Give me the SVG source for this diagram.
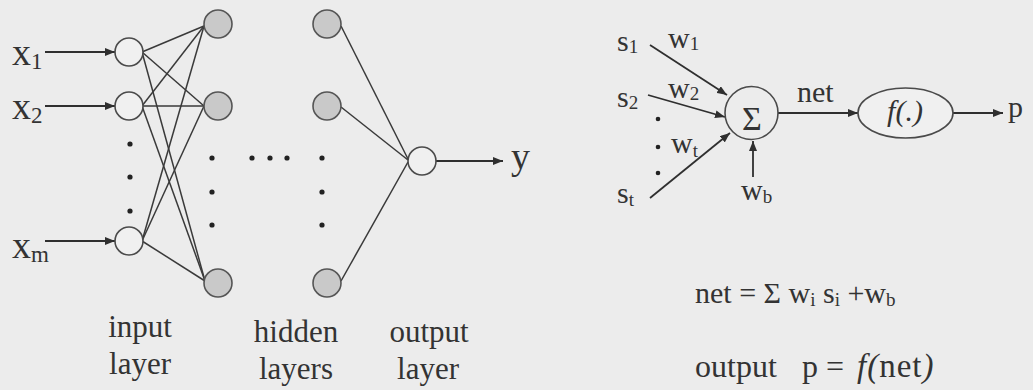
<svg xmlns="http://www.w3.org/2000/svg" width="1033" height="390" viewBox="0 0 1033 390">
<style>
  text { font-family: "Liberation Serif", "Times New Roman", serif; fill: #333; }
  .lbl { font-size: 31px; text-anchor: middle; }
  .var { font-size: 38px; }
  .sub { font-size: 23px; }
  .rv { font-size: 30px; }
  .rsub { font-size: 19px; }
  .open { fill: #f0f0f0; stroke: #4a4a4a; stroke-width: 1.6; }
  .sum { fill: #ececec; stroke: #4a4a4a; stroke-width: 1.6; }
  .hid { fill: #c9c9c9; stroke: #555; stroke-width: 1.6; }
  .ln { stroke: #3a3a3a; stroke-width: 1.5; fill: none; }
  .ar { stroke: #2f2f2f; stroke-width: 1.8; fill: none; marker-end: url(#ah); }
  .dot { fill: #222; }
</style>
<defs>
  <marker id="ah" viewBox="0 0 10 8" refX="10" refY="4" markerWidth="10" markerHeight="8" markerUnits="userSpaceOnUse" orient="auto">
    <path d="M0,0 L10,4 L0,8 z" fill="#2f2f2f"/>
  </marker>
</defs>
<rect x="0" y="0" width="1033" height="390" fill="#ececec"/>

<g id="connectors">
  <line class="ar" x1="45" y1="52" x2="115" y2="52"/>
  <line class="ar" x1="45" y1="106" x2="115" y2="106"/>
  <line class="ar" x1="45" y1="241" x2="115" y2="241"/>
  <line class="ln" x1="142" y1="52" x2="204" y2="26"/>
  <line class="ln" x1="142" y1="52" x2="204" y2="106"/>
  <line class="ln" x1="142" y1="52" x2="205" y2="281"/>
  <line class="ln" x1="142" y1="106" x2="204" y2="26"/>
  <line class="ln" x1="142" y1="106" x2="204" y2="106"/>
  <line class="ln" x1="142" y1="106" x2="205" y2="281"/>
  <line class="ln" x1="142" y1="241" x2="204" y2="26"/>
  <line class="ln" x1="142" y1="241" x2="204" y2="106"/>
  <line class="ln" x1="142" y1="241" x2="205" y2="281"/>
  <line class="ln" x1="341" y1="26" x2="408" y2="159"/>
  <line class="ln" x1="341" y1="107" x2="408" y2="160"/>
  <line class="ln" x1="341" y1="281" x2="408" y2="162"/>
  <line class="ar" x1="435" y1="161" x2="503" y2="161"/>
  <line class="ar" x1="650" y1="45" x2="727" y2="95"/>
  <line class="ar" x1="648" y1="95" x2="725" y2="117"/>
  <line class="ar" x1="650" y1="198" x2="730" y2="133"/>
  <line class="ar" x1="753" y1="177" x2="753" y2="141"/>
  <line class="ar" x1="778" y1="113" x2="858" y2="113"/>
  <line class="ar" x1="953" y1="113" x2="1003" y2="113"/>
</g>

<g id="input-x1">
  <circle class="open" cx="129" cy="52" r="14"/>
  <text class="var" x="12" y="65">x<tspan class="sub" dy="4">1</tspan></text>
</g>
<g id="input-x2">
  <circle class="open" cx="129" cy="106" r="14"/>
  <text class="var" x="12" y="119">x<tspan class="sub" dy="4">2</tspan></text>
</g>
<g id="input-dots">
  <circle class="dot" cx="130" cy="144" r="2.6"/>
  <circle class="dot" cx="130" cy="177" r="2.6"/>
  <circle class="dot" cx="130" cy="211" r="2.6"/>
</g>
<g id="input-xm">
  <circle class="open" cx="129" cy="241" r="14"/>
  <text class="var" x="12" y="258">x<tspan class="sub" dy="4">m</tspan></text>
</g>

<g id="hidden1-a"><circle class="hid" cx="218" cy="24" r="14"/></g>
<g id="hidden1-b"><circle class="hid" cx="218" cy="106" r="14"/></g>
<g id="hidden1-c"><circle class="hid" cx="218" cy="283" r="14"/></g>
<g id="hidden1-dots">
  <circle class="dot" cx="212" cy="158" r="2.6"/>
  <circle class="dot" cx="212" cy="192" r="2.6"/>
  <circle class="dot" cx="212" cy="225" r="2.6"/>
</g>
<g id="between-dots">
  <circle class="dot" cx="252" cy="158" r="2.6"/>
  <circle class="dot" cx="270" cy="158" r="2.6"/>
  <circle class="dot" cx="287" cy="158" r="2.6"/>
</g>
<g id="hidden2-a"><circle class="hid" cx="327" cy="24" r="14"/></g>
<g id="hidden2-b"><circle class="hid" cx="327" cy="106" r="14"/></g>
<g id="hidden2-c"><circle class="hid" cx="327" cy="283" r="14"/></g>
<g id="hidden2-dots">
  <circle class="dot" cx="322" cy="158" r="2.6"/>
  <circle class="dot" cx="322" cy="192" r="2.6"/>
  <circle class="dot" cx="322" cy="225" r="2.6"/>
</g>

<g id="output-node">
  <circle class="open" cx="422" cy="161" r="14"/>
  <text class="var" x="511" y="169">y</text>
</g>

<g id="layer-labels">
  <text class="lbl" x="140" y="337">input</text>
  <text class="lbl" x="140" y="374">layer</text>
  <text class="lbl" x="296" y="342">hidden</text>
  <text class="lbl" x="296" y="379">layers</text>
  <text class="lbl" x="429" y="342">output</text>
  <text class="lbl" x="428" y="379">layer</text>
</g>

<g id="neuron-inputs">
  <text class="rv" x="617" y="51">s<tspan class="rsub" dy="2">1</tspan></text>
  <text class="rv" x="617" y="107">s<tspan class="rsub" dy="2">2</tspan></text>
  <text class="rv" x="617" y="203">s<tspan class="rsub" dy="3">t</tspan></text>
  <text class="rv" x="668" y="48">w<tspan class="rsub" dy="2">1</tspan></text>
  <text class="rv" x="668" y="98">w<tspan class="rsub" dy="2">2</tspan></text>
  <text class="rv" x="671" y="153">w<tspan class="rsub" dy="4">t</tspan></text>
  <circle class="dot" cx="658" cy="119" r="2.3"/>
  <circle class="dot" cx="658" cy="147" r="2.3"/>
  <circle class="dot" cx="658" cy="173" r="2.3"/>
</g>

<g id="sum-node">
  <circle class="sum" cx="751.5" cy="113" r="26.5"/>
  <text x="752" y="130" style="font-size:34px;text-anchor:middle">Σ</text>
  <text class="rv" x="741" y="200">w<tspan class="rsub" dy="3">b</tspan></text>
</g>

<text class="rv" x="797" y="102">net</text>

<g id="activation-node">
  <ellipse class="open" cx="905.5" cy="113" rx="47.5" ry="25"/>
  <text class="rv" x="905" y="121" style="text-anchor:middle;font-style:italic">f(.)</text>
</g>

<g id="output-p">
  <text class="rv" x="1008" y="117">p</text>
</g>

<g id="formulas">
  <text class="rv" x="695" y="303">net = Σ w<tspan class="rsub" dy="3">i</tspan><tspan dy="-3"> s</tspan><tspan class="rsub" dy="3">i</tspan><tspan dy="-3"> +w</tspan><tspan class="rsub" dy="3">b</tspan></text>
  <text x="695" y="377" style="font-size:32px">output</text>
  <text x="802" y="377" style="font-size:32px">p</text>
  <text x="826" y="377" style="font-size:32px">=</text>
  <text x="857" y="377" style="font-size:33px;letter-spacing:1px"><tspan font-style="italic">f(</tspan>net<tspan font-style="italic">)</tspan></text>
</g>
</svg>
